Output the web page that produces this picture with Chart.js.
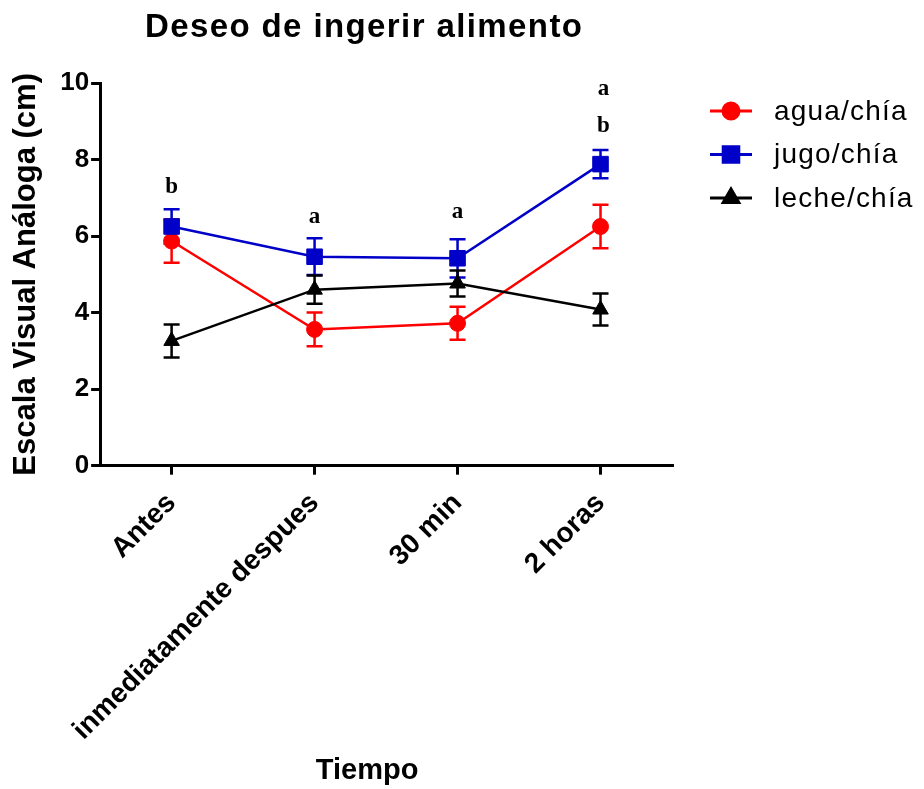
<!DOCTYPE html>
<html>
<head>
<meta charset="utf-8">
<script src="https://cdn.jsdelivr.net/npm/chart.js@4.4.0/dist/chart.umd.min.js"></script>
<style>
  html, body { margin: 0; padding: 0; background: #fff; }
  #wrap { width: 924px; height: 789px; }
</style>
</head>
<body>
<div id="wrap"><canvas id="chart"></canvas></div>
<script>
const tiempos = ['Antes', 'inmediatamente despues', '30 min', '2 horas'];

const agua = [5.87, 3.56, 3.72, 6.25];
const aguaErr = [0.57, 0.44, 0.43, 0.57];
const jugo = [6.25, 5.46, 5.42, 7.88];
const jugoErr = [0.45, 0.48, 0.50, 0.37];
const leche = [3.26, 4.60, 4.76, 4.08];
const lecheErr = [0.43, 0.37, 0.34, 0.42];

// letras de significancia (valor en la escala = linea base del texto)
const letras = [['b'], ['a'], ['a'], ['b', 'a']];
const letrasY = [[7.12], [6.35], [6.47], [8.72, 9.69]];

const yMin = 0, yMax = 10, yStep = 2;

const titulo = 'Deseo de ingerir alimento';
const tituloX = 'Tiempo';
const tituloY = 'Escala Visual Análoga (cm)';

const errorBars = {
  id: 'errorBars',
  beforeDatasetsDraw(chart) {
    const ctx = chart.ctx
    const y = chart.scales.y
    chart.data.datasets.forEach((ds, i) => {
      const meta = chart.getDatasetMeta(i)
      ctx.save()
      ctx.strokeStyle = ds.borderColor
      ctx.lineWidth = 2.5
      meta.data.forEach((pt, j) => {
        const top = y.getPixelForValue(ds.data[j] + ds.errores[j])
        const bot = y.getPixelForValue(ds.data[j] - ds.errores[j])
        ctx.beginPath()
        ctx.moveTo(pt.x, top); ctx.lineTo(pt.x, bot)
        ctx.moveTo(pt.x - 8, top); ctx.lineTo(pt.x + 8, top)
        ctx.moveTo(pt.x - 8, bot); ctx.lineTo(pt.x + 8, bot)
        ctx.stroke()
      })
      ctx.restore()
    })
  }
}

const extras = {
  id: 'extras',
  afterDraw(chart) {
    const ctx = chart.ctx
    const area = chart.chartArea
    const x = chart.scales.x, y = chart.scales.y

    // letras
    ctx.save()
    ctx.fillStyle = '#000'
    ctx.font = 'bold 23px "Liberation Serif", "Times New Roman", serif'
    ctx.textAlign = 'center'
    ctx.textBaseline = 'alphabetic'
    letras.forEach((grupo, i) => {
      grupo.forEach((l, k) => {
        ctx.fillText(l, x.getPixelForValue(i) + (i === 3 ? 3 : 0), y.getPixelForValue(letrasY[i][k]))
      })
    })
    ctx.restore()

    // titulos
    ctx.save()
    ctx.fillStyle = '#000'
    ctx.textAlign = 'center'
    ctx.textBaseline = 'middle'
    ctx.font = 'bold 33px Arial, "Liberation Sans", sans-serif'
    ctx.letterSpacing = '1.4px'
    ctx.fillText(titulo, area.left + 264, 28)
    ctx.font = 'bold 29px Arial, "Liberation Sans", sans-serif'
    ctx.letterSpacing = '0px'
    ctx.fillText(tituloX, area.left + 267, 771)
    ctx.restore()

    // leyenda
    ctx.save()
    const lx = area.right + 38
    chart.data.datasets.forEach((ds, i) => {
      const ly = area.top + 28 + i * 43.5
      ctx.strokeStyle = ds.borderColor
      ctx.fillStyle = ds.borderColor
      ctx.lineWidth = 3
      ctx.beginPath()
      ctx.moveTo(lx, ly); ctx.lineTo(lx + 42, ly)
      ctx.stroke()
      Chart.helpers.drawPoint(ctx, {
        pointStyle: ds.pointStyle, radius: ds.pointRadius, rotation: 0, borderWidth: 1
      }, lx + 21, ly)
      ctx.fillStyle = '#000'
      ctx.font = '28px Arial, "Liberation Sans", sans-serif'
      ctx.letterSpacing = '1.2px'
      ctx.textBaseline = 'middle'
      ctx.textAlign = 'left'
      ctx.fillText(ds.label, lx + 64, ly + 1)
    })
    ctx.restore()
  }
}

const ctx = document.getElementById('chart')

new Chart(ctx, {
  type: 'line',
  data: {
    labels: tiempos,
    datasets: [
      {
        label: 'agua/chía', data: agua, errores: aguaErr,
        borderColor: '#ff0000', backgroundColor: '#ff0000',
        pointStyle: 'circle', pointRadius: 8, order: 3
      },
      {
        label: 'jugo/chía', data: jugo, errores: jugoErr,
        borderColor: '#0000c8', backgroundColor: '#0000c8',
        pointStyle: 'rect', pointRadius: 11, order: 2
      },
      {
        label: 'leche/chía', data: leche, errores: lecheErr,
        borderColor: '#000000', backgroundColor: '#000000',
        pointStyle: 'triangle', pointRadius: 9, order: 1
      }
    ]
  },
  options: {
    responsive: true,
    maintainAspectRatio: false,
    animation: false,
    devicePixelRatio: 1,
    layout: { padding: { top: 83, right: 252, left: 8, bottom: 30 } },
    elements: {
      line: { borderWidth: 2.5, tension: 0, fill: false },
      point: { borderWidth: 1, hoverRadius: 8 }
    },
    plugins: {
      legend: { display: false },
      title: { display: false },
      tooltip: { enabled: false }
    },
    scales: {
      x: {
        type: 'category',
        offset: true,
        grid: { display: true, offset: false, drawOnChartArea: false, drawTicks: true, tickLength: 9, color: '#000', lineWidth: 3 },
        border: { display: true, color: '#000', width: 3 },
        ticks: {
          color: '#000', minRotation: 45, maxRotation: 45, padding: 12,
          font: { family: 'Arial, "Liberation Sans", sans-serif', size: 28, weight: 'bold' }
        }
      },
      y: {
        min: yMin, max: yMax,
        grid: { display: true, drawOnChartArea: false, drawTicks: true, tickLength: 9, color: '#000', lineWidth: 3 },
        border: { display: true, color: '#000', width: 3 },
        ticks: {
          stepSize: yStep, color: '#000', padding: 2,
          font: { family: 'Arial, "Liberation Sans", sans-serif', size: 26, weight: 'bold' }
        },
        title: {
          display: true, text: tituloY, color: '#000', padding: { top: 0, bottom: 13 },
          font: { family: 'Arial, "Liberation Sans", sans-serif', size: 31, weight: 'bold' }
        }
      }
    }
  },
  plugins: [errorBars, extras]
})
</script>
</body>
</html>
